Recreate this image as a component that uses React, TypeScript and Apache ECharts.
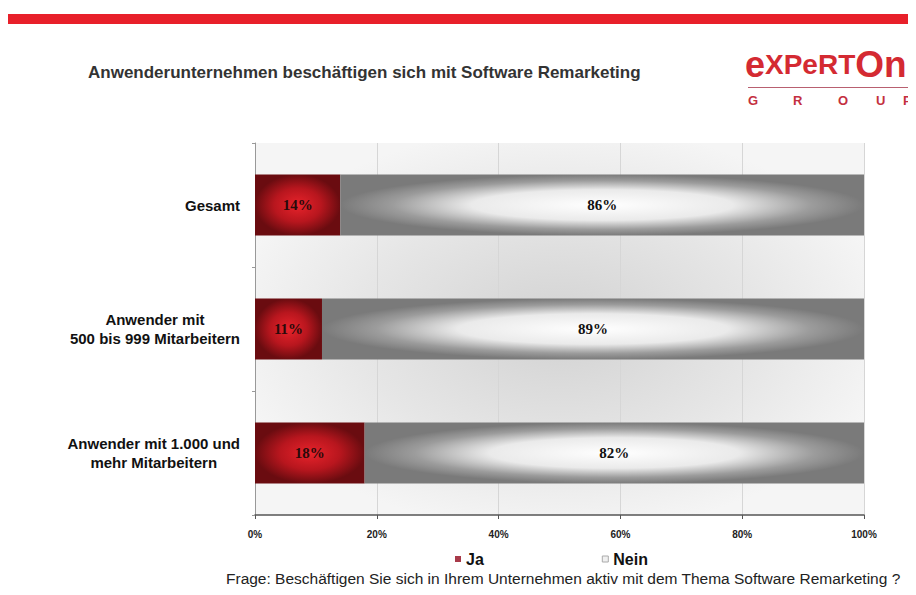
import React, { useEffect, useRef } from "react";
import * as echarts from "echarts";

const categories = [
  "Gesamt",
  "Anwender mit\n500 bis 999 Mitarbeitern",
  "Anwender mit 1.000 und\nmehr Mitarbeitern",
];
const jaValues = [14, 11, 18];
const neinValues = [86, 89, 82];
const xTicks = [0, 20, 40, 60, 80, 100];
const seriesNames = ["Ja", "Nein"];
const titleText = "Anwenderunternehmen beschäftigen sich mit Software Remarketing";
const footerText =
  "Frage: Beschäftigen Sie sich in Ihrem Unternehmen aktiv mit dem Thema Software Remarketing ?";
const groupLetters = ["G", "R", "O", "U", "P"];

export default function App() {
  const ref = useRef<HTMLDivElement>(null);
  useEffect(() => {
    if (!ref.current) return;
    const chart = echarts.init(ref.current, undefined, { renderer: "svg" });
    const redGrad = {
      type: "radial",
      x: 0.5,
      y: 0.5,
      r: 0.5,
      colorStops: [
        { offset: 0, color: "#e8232b" },
        { offset: 0.55, color: "#b8161e" },
        { offset: 1, color: "#6a0c10" },
      ],
    };
    const grayGrad = {
      type: "radial",
      x: 0.5,
      y: 0.5,
      r: 0.5,
      colorStops: [
        { offset: 0, color: "#ffffff" },
        { offset: 0.5, color: "#eaeaea" },
        { offset: 0.8, color: "#9c9c9c" },
        { offset: 1, color: "#7a7a7a" },
      ],
    };
    const bgGrad = {
      type: "radial",
      x: 0.5,
      y: 0.5,
      r: 0.55,
      colorStops: [
        { offset: 0, color: "#d2d2d2" },
        { offset: 0.6, color: "#e6e6e6" },
        { offset: 1, color: "#f5f5f5" },
      ],
    };
    const groupX = [748, 793, 838, 876, 903];
    chart.setOption({
      animation: false,
      backgroundColor: "#ffffff",
      textStyle: { fontFamily: "Liberation Sans" },
      grid: {
        left: 255,
        right: 52,
        top: 143,
        bottom: 80,
        show: true,
        backgroundColor: bgGrad,
        borderWidth: 0,
      },
      legend: {
        data: [
          { name: "Ja", itemStyle: { color: "#a83a4a" } },
          { name: "Nein", itemStyle: { color: "#f0f0f0", borderColor: "#aaaaaa", borderWidth: 1 } },
        ],
        left: 450,
        top: 546,
        icon: "rect",
        itemWidth: 6,
        itemHeight: 6,
        itemGap: 118,
        textStyle: { fontSize: 16, fontWeight: "bold", color: "#111", fontFamily: "Liberation Sans" },
      },
      xAxis: {
        type: "value",
        min: 0,
        max: 100,
        interval: 20,
        axisLine: { show: true, lineStyle: { color: "#555", width: 1.5 } },
        axisTick: { show: true, length: 4, lineStyle: { color: "#555" } },
        splitLine: { show: true, lineStyle: { color: "#d6d6d6" } },
        axisLabel: {
          formatter: (v: number) => v + "%",
          fontSize: 10,
          fontWeight: "bold",
          color: "#222",
          margin: 14,
        },
        data: xTicks,
      },
      yAxis: {
        type: "category",
        inverse: true,
        data: categories,
        axisLine: { show: true, lineStyle: { color: "#999" } },
        axisTick: { show: true, length: 3, lineStyle: { color: "#999" } },
        splitLine: { show: false },
        axisLabel: {
          align: "right",
          margin: 15,
          color: "#111",
          fontSize: 15,
          fontWeight: "bold",
          lineHeight: 19,
          formatter: (v: string) =>
            v
              .split("\n")
              .map((l) => "{c|" + l + "}")
              .join("\n"),
          rich: {
            c: {
              align: "center",
              fontSize: 15,
              fontWeight: "bold",
              color: "#111",
              lineHeight: 19,
              fontFamily: "Liberation Sans",
            },
          },
        },
      },
      series: [
        {
          name: seriesNames[0],
          type: "bar",
          stack: "total",
          barWidth: 61,
          data: jaValues,
          itemStyle: { color: redGrad },
          label: {
            show: true,
            position: "inside",
            formatter: "{c}%",
            fontFamily: "Liberation Serif",
            fontWeight: "bold",
            fontSize: 15,
            color: "#2a0a0a",
          },
        },
        {
          name: seriesNames[1],
          type: "bar",
          stack: "total",
          barWidth: 61,
          data: neinValues,
          itemStyle: { color: grayGrad },
          label: {
            show: true,
            position: "inside",
            formatter: "{c}%",
            fontFamily: "Liberation Serif",
            fontWeight: "bold",
            fontSize: 15,
            color: "#111",
          },
        },
      ],
      graphic: [
        {
          type: "rect",
          left: 5,
          top: 14,
          shape: { width: 911, height: 10 },
          style: { fill: "#e8202a" },
        },
        {
          type: "text",
          left: 88,
          top: 64,
          style: {
            text: titleText,
            font: "bold 17px 'Liberation Sans'",
            fill: "#333",
          },
        },
        {
          type: "text",
          left: 745,
          top: 46,
          style: {
            text: "{a|e}{b|XPeRT}{c|On}",
            rich: {
              a: { fontSize: 36, fontWeight: "bold", fill: "#d42a32", fontFamily: "Liberation Sans" },
              b: { fontSize: 28, fontWeight: "bold", fill: "#d42a32", fontFamily: "Liberation Sans" },
              c: { fontSize: 37, fontWeight: "bold", fill: "#d42a32", fontFamily: "Liberation Sans" },
            },
          },
        },
        {
          type: "rect",
          left: 748,
          top: 87,
          shape: { width: 168, height: 1 },
          style: { fill: "#b86070" },
        },
        ...groupLetters.map((l, i) => ({
          type: "text",
          left: groupX[i],
          top: 94,
          style: {
            text: l,
            font: "bold 13px 'Liberation Sans'",
            fill: "#c43040",
          },
        })),
        {
          type: "text",
          left: 226,
          top: 570,
          style: {
            text: footerText,
            font: "15.5px 'Liberation Sans'",
            fill: "#222",
          },
        },
      ],
    });
    return () => chart.dispose();
  }, []);
  return <div ref={ref} style={{ width: 916, height: 595, margin: -8 }} />;
}
